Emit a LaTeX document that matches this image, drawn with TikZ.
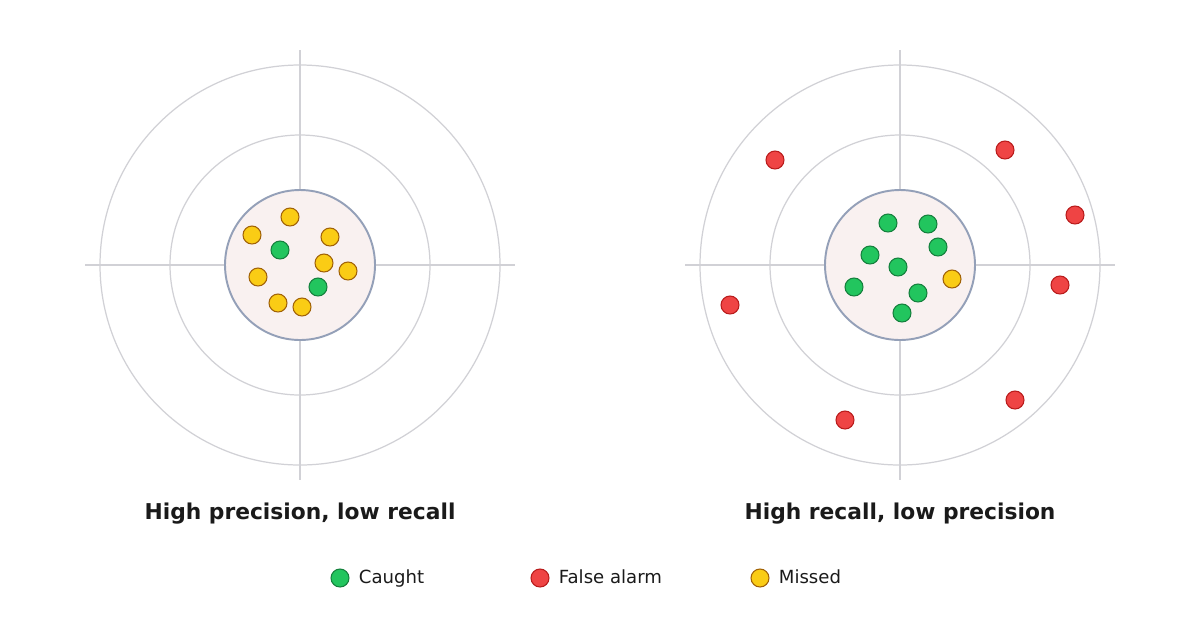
\documentclass[tikz,border=0pt]{standalone}
\usepackage{fontspec}
\setmainfont{DejaVu Sans}
\usepackage{xcolor}
\usepackage{tikz}
\definecolor{ringgray}{HTML}{D1D1D6}
\definecolor{bullfill}{HTML}{F9F1F0}
\definecolor{bulledge}{HTML}{94A0B8}
\definecolor{caughtgreen}{HTML}{22C55E}
\definecolor{caughtedge}{HTML}{15803D}
\definecolor{alarmred}{HTML}{EF4444}
\definecolor{alarmedge}{HTML}{B91C1C}
\definecolor{missyellow}{HTML}{FACC15}
\definecolor{missedge}{HTML}{A16207}
\definecolor{inkblack}{HTML}{1A1A1A}
\usetikzlibrary{positioning}

\tikzset{
	ring/.style = {draw=ringgray, line width=0.7pt},
	bull/.style = {draw=bulledge, fill=bullfill, line width=1.1pt},
	dot/.style = {circle, inner sep=0pt, minimum size=0.36cm, line width=0.6pt},
	caught/.style = {dot, draw=caughtedge, fill=caughtgreen},
	alarm/.style = {dot, draw=alarmedge, fill=alarmred},
	missed/.style = {dot, draw=missedge, fill=missyellow},
	title/.style = {font=\bfseries\fontsize{12.4}{15}\selectfont, text=inkblack},
	legtext/.style = {font=\fontsize{10.3}{12}\selectfont, text=inkblack, inner sep=0pt,
		text height=1.55ex, text depth=0.35ex}
}

\begin{document}
\begin{tikzpicture}[x=0.02cm, y=-0.02cm]
	\useasboundingbox[fill=white] (0,0) rectangle (1200,630);
	
	% left target
	\coordinate (lc) at (300,265);
	\draw[ring] (lc) circle[radius=200];
	\draw[ring] (lc) circle[radius=130];
	\draw[ring] (85,265) -- (515,265);
	\draw[ring] (300,50) -- (300,480);
	\draw[bull] (lc) circle[radius=75];
	
	\node[missed] (lm1) at (290,217) {};
	\node[missed] (lm2) at (252,235) {};
	\node[missed] (lm3) at (330,237) {};
	\node[missed] (lm4) at (324,263) {};
	\node[missed] (lm5) at (348,271) {};
	\node[missed] (lm6) at (258,277) {};
	\node[missed] (lm7) at (278,303) {};
	\node[missed] (lm8) at (302,307) {};
	\node[caught] (lg1) at (280,250) {};
	\node[caught] (lg2) at (318,287) {};
	
	\node[title] (ltitle) at (300,514) {High precision, low recall};
	
	% right target
	\coordinate (rc) at (900,265);
	\draw[ring] (rc) circle[radius=200];
	\draw[ring] (rc) circle[radius=130];
	\draw[ring] (685,265) -- (1115,265);
	\draw[ring] (900,50) -- (900,480);
	\draw[bull] (rc) circle[radius=75];
	
	\node[caught] (rg1) at (888,223) {};
	\node[caught] (rg2) at (928,224) {};
	\node[caught] (rg3) at (938,247) {};
	\node[caught] (rg4) at (870,255) {};
	\node[caught] (rg5) at (898,267) {};
	\node[caught] (rg6) at (854,287) {};
	\node[caught] (rg7) at (918,293) {};
	\node[caught] (rg8) at (902,313) {};
	\node[missed] (rm1) at (952,279) {};
	
	\node[alarm] (ra1) at (775,160) {};
	\node[alarm] (ra2) at (1005,150) {};
	\node[alarm] (ra3) at (1075,215) {};
	\node[alarm] (ra4) at (730,305) {};
	\node[alarm] (ra5) at (1060,285) {};
	\node[alarm] (ra6) at (845,420) {};
	\node[alarm] (ra7) at (1015,400) {};
	
	\node[title] (rtitle) at (900,514) {High recall, low precision};
	
	% legend
	\node[caught] (kcaught) at (340,578) {};
	\node[legtext, right=0.18cm of kcaught] (lcaught) {Caught};
	\node[alarm] (kalarm) at (540,578) {};
	\node[legtext, right=0.18cm of kalarm] (lalarm) {False alarm};
	\node[missed] (kmissed) at (760,578) {};
	\node[legtext, right=0.18cm of kmissed] (lmissed) {Missed};
\end{tikzpicture}
\end{document}
